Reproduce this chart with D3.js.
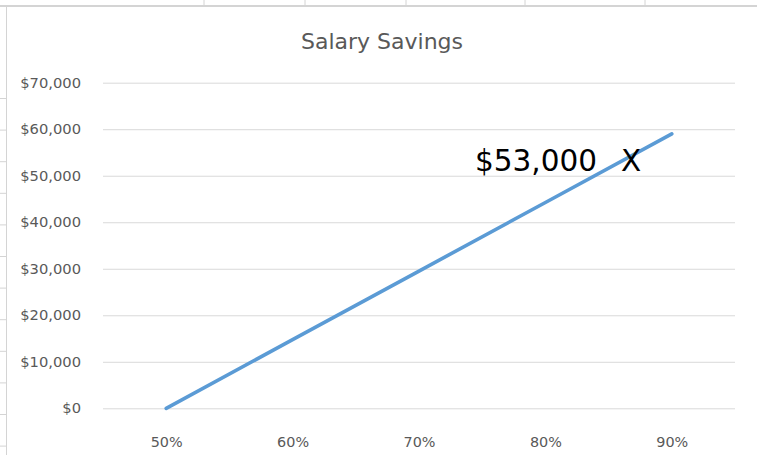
<!DOCTYPE html>
<html>
<head>
<meta charset="utf-8">
<script src="https://cdn.jsdelivr.net/npm/d3@7"></script>
<style>
  html, body { margin: 0; padding: 0; background: #ffffff; }
  svg { display: block; }
</style>
</head>
<body>
<svg id="chart" width="757" height="455"></svg>
<script>
// ---- data ----
const categories = ["50%", "60%", "70%", "80%", "90%"];
const savings = [0, 14750, 29500, 44250, 59000];
const yTicks = [0, 10000, 20000, 30000, 40000, 50000, 60000, 70000];
const chartTitle = "Salary Savings";
const noteValue = 53000;
const noteText = "$53,000";
const noteMark = "X";

(function () {
// ---- layout ----
const svg = d3.select("#chart");
const plotLeft = 103, plotRight = 735, plotTop = 82.7, plotBottom = 408.3;
const font = "'DejaVu Sans', sans-serif";
const grey = "#595959";

// spreadsheet background cell lines
const bg = svg.append("g");
bg.append("line").attr("x1", 0).attr("x2", 757).attr("y1", 6).attr("y2", 6)
  .attr("stroke", "#d4d4d4").attr("stroke-width", 2);
[204, 305, 406, 525, 645].forEach(xx => {
  bg.append("line").attr("x1", xx).attr("x2", xx).attr("y1", 0).attr("y2", 6)
    .attr("stroke", "#d4d4d4").attr("stroke-width", 1);
});
bg.append("line").attr("x1", 6.5).attr("x2", 6.5).attr("y1", 6).attr("y2", 455)
  .attr("stroke", "#d4d4d4").attr("stroke-width", 1);
d3.range(98.5, 455, 31.6).forEach(yy => {
  bg.append("line").attr("x1", 0).attr("x2", 6).attr("y1", yy).attr("y2", yy)
    .attr("stroke", "#d4d4d4").attr("stroke-width", 1);
});

// scales
const x = d3.scalePoint().domain(categories).range([plotLeft, plotRight]).padding(0.5);
const y = d3.scaleLinear().domain([0, 70000]).range([plotBottom, plotTop]);

// y axis with gridlines
const yAxis = svg.append("g")
  .attr("transform", `translate(${plotLeft},0)`)
  .call(d3.axisLeft(y).tickValues(yTicks).tickFormat(d3.format("$,"))
    .tickSizeInner(-(plotRight - plotLeft)).tickSizeOuter(0).tickPadding(22));
yAxis.select(".domain").remove();
yAxis.selectAll(".tick line").attr("stroke", "#d9d9d9").attr("stroke-width", 1);
yAxis.selectAll(".tick text")
  .attr("font-family", font).attr("font-size", "14.7px").attr("fill", grey)
  .attr("dy", "0.3em");

// x axis
const xAxis = svg.append("g")
  .attr("transform", `translate(0,${plotBottom})`)
  .call(d3.axisBottom(x).tickSize(0).tickPadding(28));
xAxis.select(".domain").remove();
xAxis.selectAll(".tick text")
  .attr("font-family", font).attr("font-size", "14.4px").attr("fill", grey);

// title
svg.append("text")
  .attr("x", 382).attr("y", 49)
  .attr("text-anchor", "middle")
  .attr("font-family", font).attr("font-size", "22px").attr("fill", grey)
  .text(chartTitle);

// line
const line = d3.line()
  .x((d, i) => x(categories[i]))
  .y(d => y(d));
svg.append("path")
  .datum(savings)
  .attr("d", line)
  .attr("fill", "none")
  .attr("stroke", "#5B9BD5")
  .attr("stroke-width", 3.6)
  .attr("stroke-linecap", "round")
  .attr("stroke-linejoin", "round");

// annotation
const noteY = y(noteValue) + 9.5;
svg.append("text")
  .attr("x", 475).attr("y", noteY)
  .attr("font-family", font).attr("font-size", "29.5px").attr("fill", "#000000")
  .text(noteText);
svg.append("text")
  .attr("x", 621).attr("y", noteY)
  .attr("font-family", font).attr("font-size", "29.5px").attr("fill", "#000000")
  .text(noteMark);
})();
</script>
</body>
</html>
